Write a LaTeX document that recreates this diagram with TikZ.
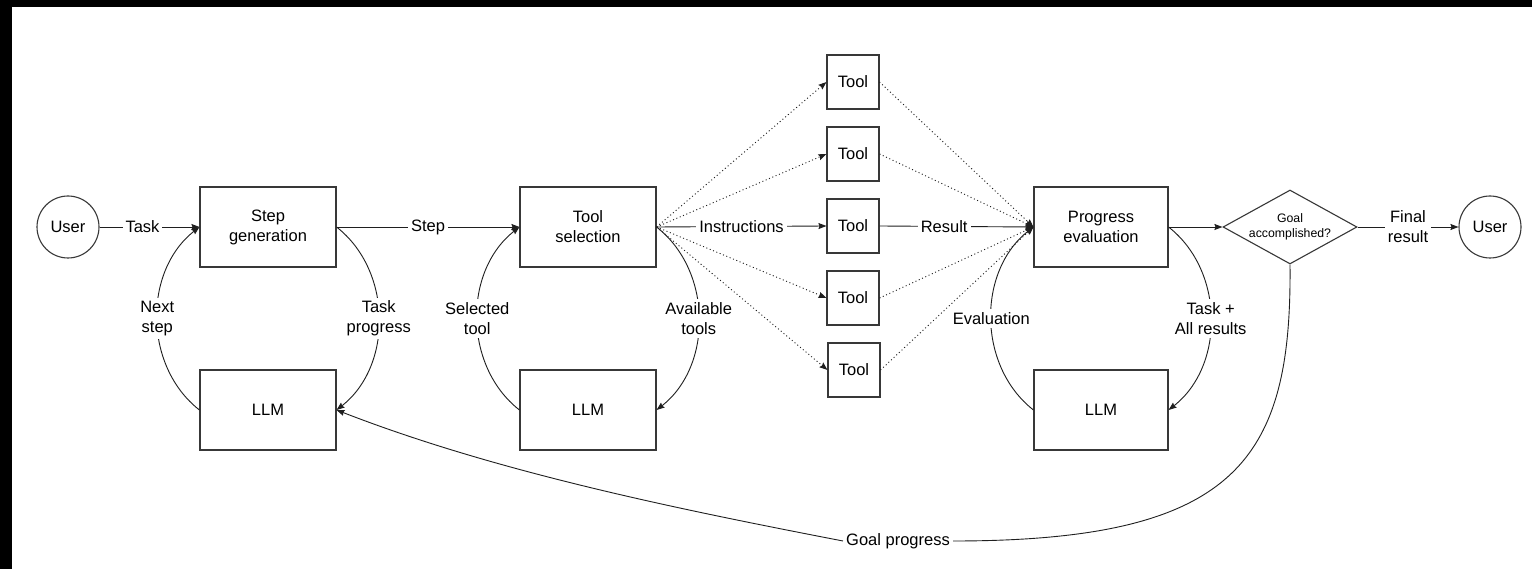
\documentclass[tikz,border=0pt]{standalone}
\usepackage{fontspec}
\setmainfont{Liberation Sans}
\usetikzlibrary{arrows.meta,shapes.geometric}

\begin{document}
\begin{tikzpicture}[x=1pt,y=1pt,
  txt/.style={font=\fontsize{16.5}{20}\selectfont},
  box/.style={txt, draw=black!78, line width=1.1pt, minimum width=136pt,
    minimum height=80pt, align=center, inner sep=0pt},
  toolbox/.style={box, minimum width=52pt, minimum height=54pt},
  userbox/.style={txt, circle, draw=black!78, line width=1.1pt,
    minimum size=62pt, inner sep=0pt},
  decision/.style={diamond, draw=black!78, line width=1.1pt, aspect=1.81,
    minimum width=134pt, minimum height=74pt, inner sep=0pt, align=center,
    font=\fontsize{12.3}{15}\selectfont},
  flow/.style={draw=black!88, line width=0.9pt,
    -{Stealth[length=8pt,width=6pt,inset=1pt]}},
  fan/.style={flow, dash pattern=on 1pt off 2.6pt},
  lbl/.style={txt, fill=white, inner sep=3pt, align=center},
]
\useasboundingbox (0,0) rectangle (1532,-569);
\fill[white] (0,0) rectangle (1532,-569);
% dark frame strips along the top and left edges
\fill[black] (0,0) rectangle (1532,-7);
\fill[black] (0,0) rectangle (12,-569);

% nodes
\node[userbox] (u1) at (68,-227) {User};
\node[box] (sg) at (268,-227) {Step\\generation};
\node[box] (llm1) at (268,-410) {LLM};
\node[box] (ts) at (588,-227) {Tool\\selection};
\node[box] (llm2) at (588,-410) {LLM};
\node[toolbox] (t1) at (853,-82) {Tool};
\node[toolbox] (t2) at (853,-154) {Tool};
\node[toolbox] (t3) at (853,-226) {Tool};
\node[toolbox] (t4) at (853,-298) {Tool};
\node[toolbox] (t5) at (854,-370) {Tool};
\node[box, minimum width=134pt] (pe) at (1101,-227) {Progress\\evaluation};
\node[box, minimum width=134pt] (llm3) at (1101,-410) {LLM};
\node[decision] (goal) at (1290,-227) {Goal\\accomplished?};
\node[userbox] (u2) at (1490,-227) {User};
\node[lbl] (gp) at (898,-541) {Goal progress};

% step generation loop
\draw[flow] (u1) -- node[lbl, pos=0.43] {Task} (sg);
\draw[flow] (llm1.west) to[bend left=52] node[lbl] {Next\\step} (sg.west);
\draw[flow] (sg.east) to[bend left=52] node[lbl] {Task\\progress} (llm1.east);
\draw[flow] (sg) -- node[lbl] {Step} (ts);

% tool selection loop
\draw[flow] (llm2.west) to[bend left=52] node[lbl] {Selected\\tool} (ts.west);
\draw[flow] (ts.east) to[bend left=52] node[lbl] {Available\\tools} (llm2.east);

% fan out to the tools and back
\draw[flow] (ts.east) -- node[lbl] {Instructions} (t3.west);
\foreach \t in {t1,t2,t4,t5} {
  \draw[fan] (ts.east) -- (\t.west);
  \draw[fan] (\t.east) -- (pe.west);
}
\draw[flow] (t3.east) -- node[lbl, pos=0.42] {Result} (pe.west);

% progress evaluation loop
\draw[flow] (llm3.west) to[bend left=52] node[lbl] {Evaluation} (pe.west);
\draw[flow] (pe.east) to[bend left=52] node[lbl] {Task +\\All results} (llm3.east);
\draw[flow] (pe) -- (goal);
\draw[flow] (goal) -- node[lbl] {Final\\result} (u2);

% goal feedback back to the first LLM
\draw[draw=black!88, line width=0.9pt] (goal.south) .. controls +(2,-196) and +(283,0) .. (gp.east);
\draw[flow] (gp.west) .. controls +(-160,31) and +(162,-63) .. (llm1.east);
\end{tikzpicture}
\end{document}
